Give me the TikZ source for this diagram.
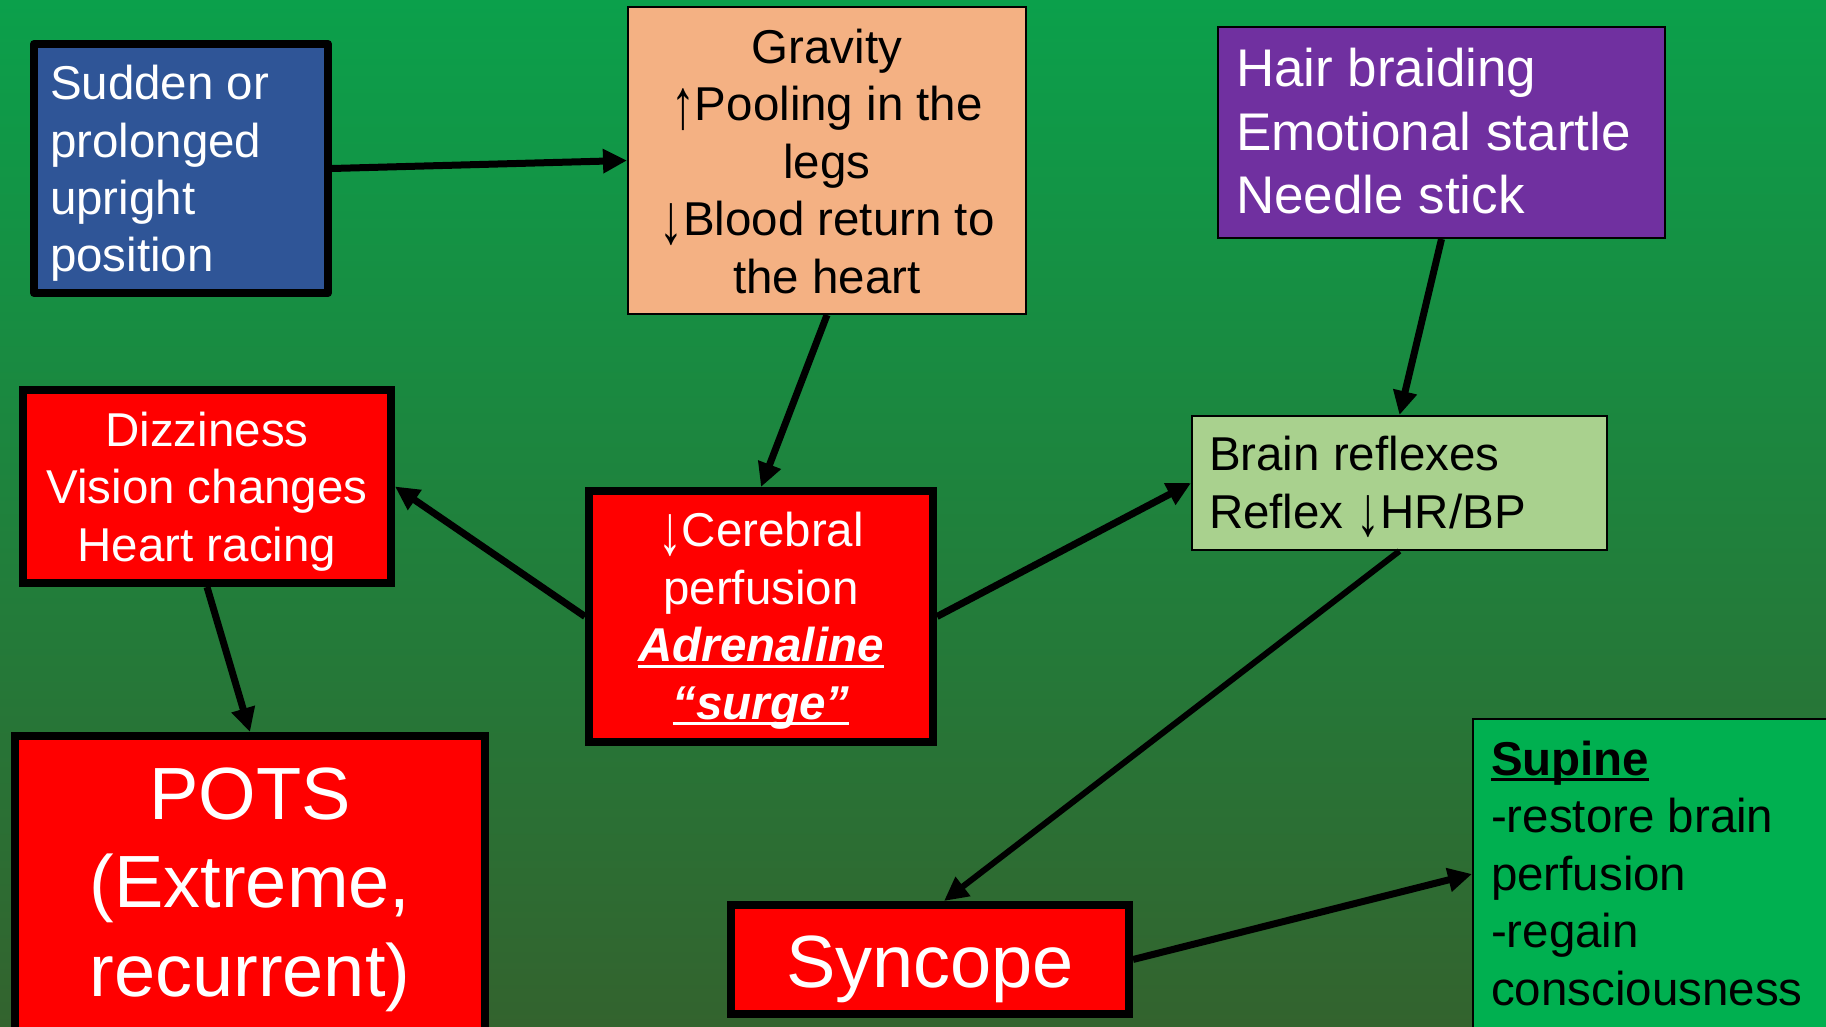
\documentclass[tikz,border=0pt]{standalone}
\usepackage{fontspec}
\usepackage{graphicx}
\setmainfont{Liberation Sans}
\usetikzlibrary{arrows.meta}
\definecolor{bgtop}{RGB}{11,160,75}
\definecolor{bgbot}{RGB}{51,99,46}
\definecolor{boxblue}{RGB}{47,85,151}
\definecolor{boxorange}{RGB}{244,177,131}
\definecolor{boxpurple}{RGB}{112,48,160}
\definecolor{boxlgreen}{RGB}{169,209,142}
\definecolor{boxred}{RGB}{255,0,0}
\definecolor{boxgreen}{RGB}{0,176,80}
\newsavebox\ulbox
\newcommand\myul[1]{\sbox\ulbox{#1}\rlap{\rule[-6pt]{\wd\ulbox}{3pt}}\usebox\ulbox}
\newcommand\tallglyph[1]{\raisebox{-10pt}{\resizebox*{\width}{42pt}{\raisebox{\depth}{#1}}}}
\newcommand\dnarr{\tallglyph{↓}}
\newcommand\uparr{\tallglyph{↑}}
\newcommand\fA{\fontsize{47.5}{57.5}\selectfont}
\newcommand\fP{\fontsize{53}{63.5}\selectfont}
\newcommand\fB{\fontsize{74}{88.5}\selectfont}
\begin{document}
\begin{tikzpicture}[x=1pt,y=-1pt,
  thickbox/.style={draw=black, line width=8pt, inner sep=0pt},
  thinbox/.style={draw=black, line width=2pt, inner sep=0pt},
  txt/.style={inner sep=0pt, outer sep=0pt},
  arr/.style={line width=7pt, -{Triangle[length=24pt,width=23pt]}}]
\useasboundingbox (0,0) rectangle (1826,1027);
\clip (0,0) rectangle (1826,1027);
\shade[top color=bgtop, bottom color=bgbot] (0,0) rectangle (1826,1027);

% boxes
\node[thickbox, fill=boxblue, line join=round, minimum width=294pt, minimum height=249pt] (blue) at (181,168.5) {};
\node[thinbox, fill=boxorange, minimum width=398pt, minimum height=307pt] (orange) at (827,160.5) {};
\node[thinbox, fill=boxpurple, minimum width=447pt, minimum height=211pt] (purple) at (1441.5,132.5) {};
\node[thinbox, fill=boxlgreen, minimum width=415pt, minimum height=134pt] (brain) at (1399.5,483) {};
\node[thickbox, fill=boxred, minimum width=368pt, minimum height=193pt] (dizz) at (207,486.5) {};
\node[thickbox, fill=boxred, minimum width=344pt, minimum height=251pt] (cereb) at (761,616.5) {};
\node[thickbox, fill=boxred, minimum width=470pt, minimum height=300pt] (pots) at (250,886) {};
\node[thickbox, fill=boxred, minimum width=398pt, minimum height=109pt] (sync) at (930,959.5) {};
\node[thinbox, fill=boxgreen, minimum width=356pt, minimum height=310pt] (supine) at (1651,874) {};

% texts (anchor base = baseline of the last line)
\node[txt, anchor=base west, align=left, text=white, font=\fA] (bluet) at (50,272)
  {Sudden or\\prolonged\\upright\\position};
\node[txt, anchor=base, align=center, text=black, font=\fA] (oranget) at (827,293)
  {Gravity\\\uparr Pooling in the\\legs\\\dnarr Blood return to\\the heart};
\node[txt, anchor=base west, align=left, text=white, font=\fP] (purplet) at (1236,214)
  {Hair braiding\\Emotional startle\\Needle stick};
\node[txt, anchor=base west, align=left, text=black, font=\fA] (braint) at (1209,528)
  {Brain reflexes\\Reflex \dnarr HR/BP};
\node[txt, anchor=base, align=center, text=white, font=\fA] (dizzt) at (207,561)
  {Dizziness\\Vision changes\\Heart racing};
\node[txt, anchor=base, align=center, text=white, font=\fA] (cerebt) at (761,719)
  {\dnarr Cerebral\\perfusion\\{\bfseries\itshape\myul{Adrenaline}}\\{\bfseries\itshape\myul{“surge”}}};
\node[txt, anchor=base, align=center, text=white, font=\fB] (potst) at (250,996)
  {POTS\\(Extreme,\\recurrent)};
\node[txt, anchor=base, align=center, text=white, font=\fB] (synct) at (930,987)
  {Syncope};
\node[txt, anchor=base west, align=left, text=black, font=\fA] (supt) at (1491,1005)
  {{\bfseries\myul{Supine}}\\-restore brain\\perfusion\\-regain\\consciousness};

% connectors
\draw[arr] (blue.east) -- (orange.west);
\draw[arr] (orange.south) -- (cereb.north);
\draw[arr] (purple.south) -- (brain.north);
\draw[arr] (cereb.west) -- (dizz.east);
\draw[arr] (cereb.east) -- (brain.west);
\draw[arr] (dizz.south) -- (pots.north);
\draw[arr, line width=6pt] (brain.south) -- ([xshift=14pt]sync.north);
\draw[arr] (sync.east) -- (supine.west);
\end{tikzpicture}
\end{document}
